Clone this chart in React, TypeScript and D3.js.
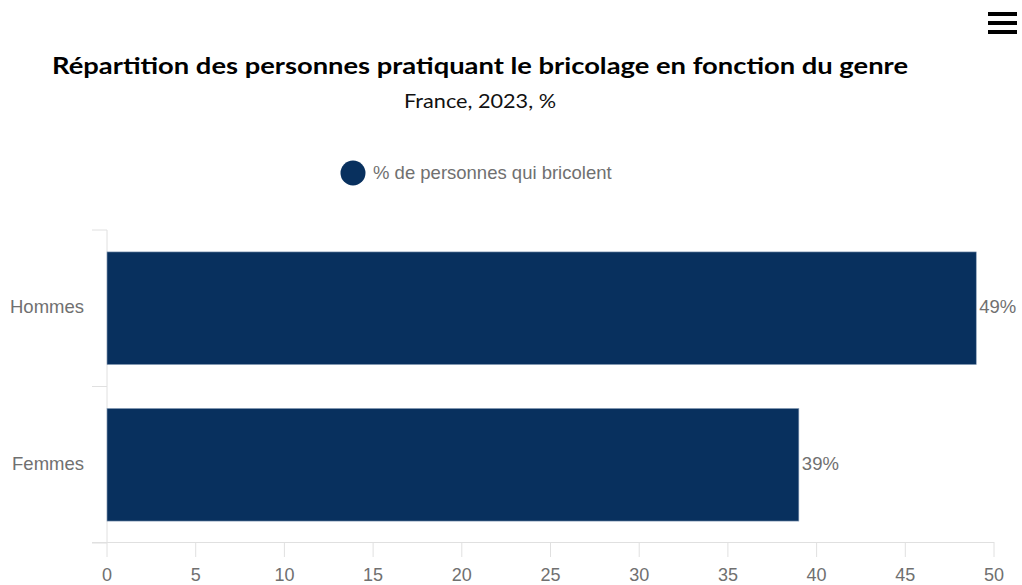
import * as React from 'react';
import * as d3 from 'd3';

const categories = ['Hommes', 'Femmes'];
const values = [49, 39];
const xTicks = [0, 5, 10, 15, 20, 25, 30, 35, 40, 45, 50];
const seriesName = '% de personnes qui bricolent';
const title = 'Répartition des personnes pratiquant le bricolage en fonction du genre';
const subtitle = 'France, 2023, %';

const W = 1022;
const H = 585;
const barColor = '#08305e';
const axisColor = '#e0e0e0';
const textColor = '#707070';
const font = '"Liberation Sans", Arial, sans-serif';

export default function App() {
  const x = d3.scaleLinear().domain([0, 50]).range([107, 994]);
  const y = d3.scaleBand<string>().domain(categories).range([230, 543]).paddingInner(0.28).paddingOuter(0.14);
  const band = d3.scaleBand<string>().domain(categories).range([230, 543]);

  return (
    <svg width={W} height={H} style={{position: 'absolute', left: 0, top: 0, background: '#fff'}}>
      {/* menu icon */}
      {[12, 21, 30].map(t => (
        <rect key={t} x={988} y={t} width={29} height={4} fill="#000" />
      ))}

      <text x={480} y={74} textAnchor="middle" fontFamily='Lato, "Open Sans", sans-serif'
        fontWeight={700} fontSize={23} fill="#000" textLength={856} lengthAdjust="spacingAndGlyphs">
        {title}
      </text>
      <text x={480} y={108} textAnchor="middle" fontFamily='Lato, "Open Sans", sans-serif'
        fontWeight={400} fontSize={20} fill="#111" textLength={152} lengthAdjust="spacingAndGlyphs">
        {subtitle}
      </text>

      {/* legend */}
      <circle cx={353} cy={173} r={12.5} fill={barColor} />
      <text x={373} y={179} fontFamily={font} fontSize={18.5} fill={textColor}>{seriesName}</text>

      {/* category axis */}
      <line x1={107} x2={107} y1={230} y2={543} stroke={axisColor} />
      {[...categories.map(c => band(c) as number), 543].map((t, i) => (
        <line key={i} x1={92} x2={107} y1={t} y2={t} stroke={axisColor} />
      ))}
      {categories.map(c => (
        <text key={c} x={84} y={(band(c) as number) + band.bandwidth() / 2 + 5} textAnchor="end"
          fontFamily={font} fontSize={18.5} fill={textColor}>{c}</text>
      ))}

      {/* value axis */}
      <line x1={92} x2={994} y1={542.5} y2={542.5} stroke={axisColor} />
      {xTicks.map(t => (
        <g key={t}>
          <line x1={x(t)} x2={x(t)} y1={542} y2={557} stroke={axisColor} />
          <text x={x(t)} y={581} textAnchor="middle" fontFamily={font} fontSize={18} fill={textColor}>{t}</text>
        </g>
      ))}

      {/* bars */}
      {categories.map((c, i) => (
        <g key={c}>
          <rect x={x(0)} y={y(c)} width={x(values[i]) - x(0)} height={y.bandwidth()}
            fill={barColor} stroke="#8fa3bc" strokeWidth={0.6} />
          <text x={x(values[i]) + 3} y={(y(c) as number) + y.bandwidth() / 2 + 5}
            fontFamily={font} fontSize={18.5} fill={textColor}>{values[i]}%</text>
        </g>
      ))}
    </svg>
  );
}
